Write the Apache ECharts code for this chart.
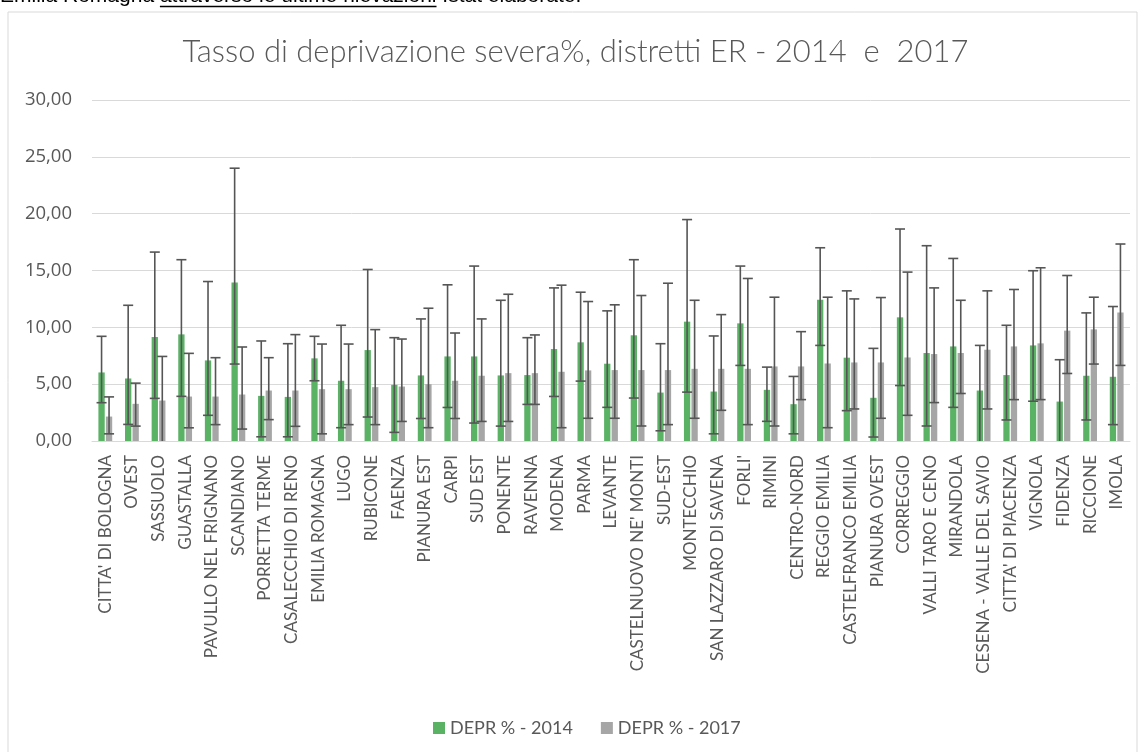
<!DOCTYPE html>
<html>
<head>
<meta charset="utf-8">
<script src="https://cdn.jsdelivr.net/npm/echarts@6/dist/echarts.min.js"></script>
<style>
  html, body { margin: 0; padding: 0; background: #fff; }
  #chart { width: 1140px; height: 752px; }
</style>
</head>
<body>
<div id="chart"></div>
<script>
// Distretti socio-sanitari dell'Emilia-Romagna
const categories = [
  "CITTA' DI BOLOGNA", "OVEST", "SASSUOLO", "GUASTALLA", "PAVULLO NEL FRIGNANO",
  "SCANDIANO", "PORRETTA TERME", "CASALECCHIO DI RENO", "EMILIA ROMAGNA", "LUGO",
  "RUBICONE", "FAENZA", "PIANURA EST", "CARPI", "SUD EST", "PONENTE", "RAVENNA",
  "MODENA", "PARMA", "LEVANTE", "CASTELNUOVO NE' MONTI", "SUD-EST", "MONTECCHIO",
  "SAN LAZZARO DI SAVENA", "FORLI'", "RIMINI", "CENTRO-NORD", "REGGIO EMILIA",
  "CASTELFRANCO EMILIA", "PIANURA OVEST", "CORREGGIO", "VALLI TARO E CENO",
  "MIRANDOLA", "CESENA - VALLE DEL SAVIO", "CITTA' DI PIACENZA", "VIGNOLA",
  "FIDENZA", "RICCIONE", "IMOLA"
];

// Tasso di deprivazione severa (%) 2014, con estremi dell'intervallo
const depr2014  = [6.03, 5.50, 9.15, 9.38, 7.09, 13.94, 3.97, 3.88, 7.27, 5.30,
                   8.00, 4.94, 5.77, 7.44, 7.44, 5.77, 5.80, 8.09, 8.68, 6.80,
                   9.30, 4.26, 10.50, 4.35, 10.35, 4.50, 3.24, 12.42, 7.33, 3.80,
                   10.88, 7.74, 8.32, 4.44, 5.80, 8.41, 3.47, 5.74, 5.65];
const upper2014 = [9.21, 11.94, 16.62, 15.95, 14.03, 24.00, 8.80, 8.56, 9.21, 10.18,
                   15.09, 9.09, 10.74, 13.74, 15.39, 12.38, 9.09, 13.47, 13.09, 11.45,
                   15.95, 8.56, 19.48, 9.24, 15.39, 6.50, 5.68, 17.00, 13.21, 8.15,
                   18.65, 17.18, 16.06, 8.41, 10.18, 14.98, 7.15, 11.27, 11.83];
const lower2014 = [3.37, 1.46, 3.75, 3.93, 2.26, 6.77, 0.37, 0.37, 5.30, 1.17,
                   2.11, 0.76, 1.98, 2.95, 1.58, 1.31, 3.22, 3.92, 5.27, 2.96,
                   3.78, 0.90, 4.30, 0.63, 6.65, 1.73, 0.63, 8.41, 2.67, 0.35,
                   4.88, 1.32, 2.96, -0.50, 1.85, 3.50, -0.50, 1.85, 1.44];

// Tasso di deprivazione severa (%) 2017, con estremi dell'intervallo
const depr2017  = [2.15, 3.27, 3.56, 3.91, 3.91, 4.09, 4.44, 4.44, 4.56, 4.56,
                   4.74, 4.79, 5.00, 5.30, 5.74, 5.97, 5.97, 6.09, 6.21, 6.24,
                   6.24, 6.24, 6.35, 6.35, 6.35, 6.56, 6.56, 6.82, 6.91, 6.91,
                   7.35, 7.65, 7.74, 8.03, 8.32, 8.59, 9.71, 9.82, 11.30];
const upper2017 = [3.88, 5.09, 7.44, 7.71, 7.33, 8.27, 7.33, 9.36, 8.53, 8.53,
                   9.80, 8.97, 11.68, 9.50, 10.74, 12.91, 9.33, 13.71, 12.27, 11.98,
                   12.80, 13.88, 12.38, 11.12, 14.30, 12.65, 9.62, 12.65, 12.50, 12.62,
                   14.86, 13.47, 12.38, 13.21, 13.33, 15.24, 14.56, 12.65, 17.33];
const lower2017 = [0.63, 1.31, -0.50, 1.16, 1.44, 1.05, 1.88, 1.29, 0.63, 1.44,
                   1.44, 1.72, 1.17, 1.98, 1.72, 1.72, 3.22, 1.17, 2.00, 2.00,
                   1.32, 1.44, 2.00, 2.70, 1.44, 1.32, 3.64, 1.17, 2.82, 2.00,
                   2.26, 3.38, 4.18, 2.82, 3.64, 3.64, 5.94, 6.77, 6.65];

// Scala dell'asse dei valori
const yMin = 0, yMax = 30, yStep = 5;

const GREEN = '#5ab265';
const GREY = '#a6a6a6';
const TEXT = '#595959';
const FONT = 'Lato, "Open Sans", sans-serif';
const BAR_W = 6.3;
const BAR_GAP = 1.2;

// Barre d'errore disegnate sopra ciascuna serie di colonne
function errorBars(name, upper, lower, side) {
  return {
    type: 'custom',
    name: name,
    silent: true,
    clip: true,
    z: 5,
    data: categories.map((c, i) => [i, upper[i], lower[i]]),
    encode: { x: 0, y: [1, 2] },
    renderItem: function (params, api) {
      const i = api.value(0);
      const top = api.coord([i, api.value(1)]);
      const bot = api.coord([i, api.value(2)]);
      const x = top[0] + side * (BAR_W + BAR_GAP) / 2;
      const cap = 5;
      const style = { stroke: '#555555', lineWidth: 1.6 };
      return {
        type: 'group',
        children: [
          { type: 'line', shape: { x1: x, y1: top[1], x2: x, y2: bot[1] }, style: style },
          { type: 'line', shape: { x1: x - cap, y1: top[1], x2: x + cap, y2: top[1] }, style: style },
          { type: 'line', shape: { x1: x - cap, y1: bot[1], x2: x + cap, y2: bot[1] }, style: style }
        ]
      };
    }
  };
}

// Intestazione del testo che precede il grafico
const captionFont = '21px "Liberation Sans", Arial, sans-serif';
const ctx = document.createElement('canvas').getContext('2d');
ctx.font = captionFont;
const capA = 'Emilia Romagna ';
const capB = 'attraverso le ultime rilevazioni';
const capC = ' Istat elaborate.';
const wA = ctx.measureText(capA).width;
const wB = ctx.measureText(capB).width;

const chart = echarts.init(document.getElementById('chart'));
chart.setOption({
  backgroundColor: '#fff',
  animation: false,
  legend: {
    data: ['DEPR % - 2014', 'DEPR % - 2017'],
    left: 428,
    top: 714,
    itemWidth: 12,
    itemHeight: 12,
    itemGap: 28,
    icon: 'rect',
    textStyle: { color: TEXT, fontFamily: FONT, fontSize: 18 }
  },
  grid: { left: 92, right: 10, top: 100, bottom: 311, containLabel: false },
  xAxis: {
    type: 'category',
    data: categories,
    axisLine: { lineStyle: { color: '#d9d9d9', width: 1 } },
    axisTick: { show: false },
    axisLabel: {
      interval: 0,
      rotate: 90,
      margin: 14,
      color: TEXT,
      fontFamily: FONT,
      fontSize: 17
    }
  },
  yAxis: {
    type: 'value',
    min: yMin,
    max: yMax,
    interval: yStep,
    axisLine: { show: false },
    axisTick: { show: false },
    splitLine: { lineStyle: { color: '#d9d9d9', width: 1 } },
    axisLabel: {
      margin: 20,
      color: TEXT,
      fontFamily: '"Open Sans", Lato, sans-serif',
      fontSize: 18.5,
      formatter: v => v.toFixed(2).replace('.', ',')
    }
  },
  series: [
    {
      name: 'DEPR % - 2014',
      type: 'bar',
      data: depr2014,
      barWidth: BAR_W,
      barGap: (BAR_GAP / BAR_W * 100) + '%',
      itemStyle: { color: GREEN }
    },
    {
      name: 'DEPR % - 2017',
      type: 'bar',
      data: depr2017,
      barWidth: BAR_W,
      barGap: (BAR_GAP / BAR_W * 100) + '%',
      itemStyle: { color: GREY }
    },
    errorBars('err2014', upper2014, lower2014, -1),
    errorBars('err2017', upper2017, lower2017, 1)
  ],
  graphic: [
    {
      type: 'rect',
      shape: { x: 8, y: 12, width: 1129, height: 760 },
      style: { fill: 'none', stroke: '#d9d9d9', lineWidth: 1 },
      silent: true
    },
    {
      type: 'text',
      x: 575.5,
      y: 52,
      style: {
        text: 'Tasso di deprivazione severa%, distretti ER - 2014  e  2017',
        fill: TEXT,
        font: '300 31px Lato, "Open Sans", sans-serif',
        align: 'center',
        verticalAlign: 'middle'
      },
      silent: true
    },
    {
      type: 'text',
      x: 0,
      y: -14,
      style: { text: capA + capB + capC, font: captionFont, fill: '#000' },
      silent: true
    },
    {
      type: 'line',
      shape: { x1: wA, y1: 6.5, x2: wA + wB, y2: 6.5 },
      style: { stroke: '#000', lineWidth: 1.5 },
      silent: true
    }
  ]
});
</script>
</body>
</html>
